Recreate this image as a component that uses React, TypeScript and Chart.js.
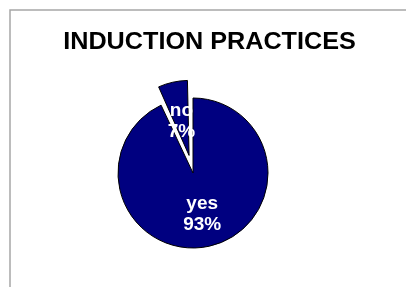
import React, { useEffect, useRef } from "react";
import { Chart, registerables } from "chart.js";

Chart.register(...registerables);

const title = "INDUCTION PRACTICES";
const categories = ["yes", "no"];
const values = [93, 7];
// Chart.js 4 arcs move by offset / 4 pixels
const explode = [0, 72];
const labelRadius = [0.56, 0.47];
const sliceColor = "#000080";

const framePlugin = {
  id: "frame",
  beforeDraw(chart: any) {
    const ctx = chart.ctx;
    ctx.save();
    ctx.fillStyle = "#ffffff";
    ctx.fillRect(0, 0, chart.width, chart.height);
    ctx.strokeStyle = "#a6a6a6";
    ctx.lineWidth = 1.5;
    ctx.beginPath();
    ctx.moveTo(10, chart.height);
    ctx.lineTo(10, 10);
    ctx.lineTo(chart.width, 10);
    ctx.stroke();
    ctx.restore();
  },
};

// keep exploded slices at the same radius as the rest of the pie
const keepRadiusPlugin = {
  id: "keepRadius",
  beforeDatasetsDraw(chart: any) {
    const meta = chart.getDatasetMeta(0);
    const R = meta.controller.outerRadius;
    meta.data.forEach((arc: any) => {
      const off = (arc.options.offset || 0) / 4;
      const circ = arc.endAngle - arc.startAngle;
      const fix = 1 - Math.sin(Math.min(Math.PI, circ));
      arc.outerRadius = R - off * fix;
    });
  },
};

const titlePlugin = {
  id: "stretchedTitle",
  afterDraw(chart: any) {
    const ctx = chart.ctx;
    ctx.save();
    ctx.font = "bold 24px 'Liberation Sans', Arial, sans-serif";
    ctx.fillStyle = "#000000";
    ctx.textAlign = "center";
    ctx.textBaseline = "alphabetic";
    ctx.translate(209.5, 49);
    ctx.scale(1.05, 1);
    ctx.fillText(title, 0, 0);
    ctx.restore();
  },
};

const labelPlugin = {
  id: "sliceLabels",
  afterDatasetsDraw(chart: any) {
    const ctx = chart.ctx;
    const meta = chart.getDatasetMeta(0);
    const R = meta.controller.outerRadius;
    const total = values.reduce((a, b) => a + b, 0);
    ctx.save();
    ctx.font = "bold 19px 'Liberation Sans', Arial, sans-serif";
    ctx.fillStyle = "#ffffff";
    ctx.textAlign = "center";
    ctx.textBaseline = "middle";
    meta.data.forEach((arc: any, i: number) => {
      const mid = (arc.startAngle + arc.endAngle) / 2;
      const off = (arc.options.offset || 0) / 4;
      const d = off + R * labelRadius[i];
      const cx = arc.x + Math.cos(mid) * d;
      const cy = arc.y + Math.sin(mid) * d;
      const pct = Math.round((values[i] / total) * 100) + "%";
      ctx.fillText(categories[i], cx, cy - 10.5);
      ctx.fillText(pct, cx, cy + 10.5);
    });
    ctx.restore();
  },
};

export default function App() {
  const ref = useRef<HTMLCanvasElement | null>(null);
  useEffect(() => {
    if (!ref.current) return;
    const chart = new Chart(ref.current, {
      type: "pie",
      data: {
        labels: categories,
        datasets: [
          {
            data: values,
            backgroundColor: sliceColor,
            borderColor: "#000000",
            borderWidth: 1,
            offset: explode,
            clip: false,
          } as any,
        ],
      },
      options: {
        animation: false,
        responsive: false,
        radius: 75,
        layout: { padding: { left: 0, right: 20, top: 59, bottom: 0 } },
        plugins: {
          legend: { display: false },
          tooltip: { enabled: false },
          title: { display: false },
        },
      } as any,
      plugins: [framePlugin, keepRadiusPlugin, titlePlugin, labelPlugin],
    });
    return () => chart.destroy();
  }, []);
  return (
    <div style={{ position: "fixed", left: 0, top: 0, width: 406, height: 287, overflow: "hidden", background: "#fff" }}>
      <canvas ref={ref} width={406} height={287} style={{ display: "block" }} />
    </div>
  );
}
